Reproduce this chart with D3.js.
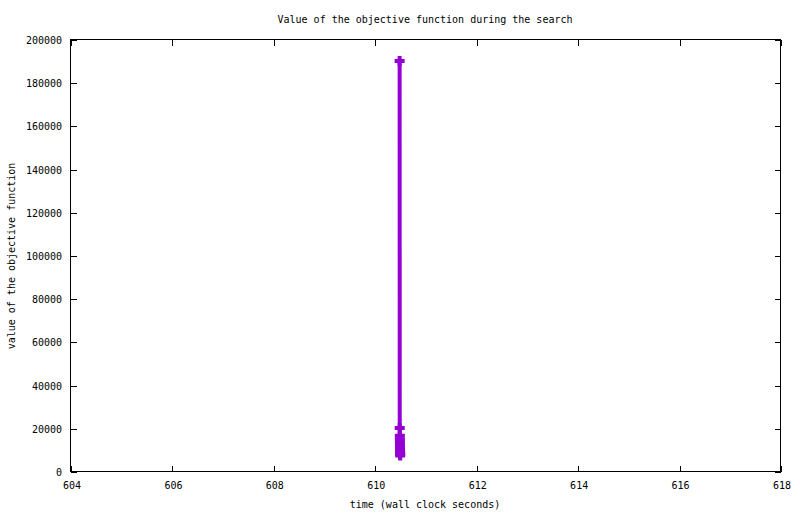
<!DOCTYPE html>
<html>
<head>
<meta charset="utf-8">
<script src="https://cdn.jsdelivr.net/npm/d3@7"></script>
<style>
html,body{margin:0;padding:0;background:#fff;}
svg text{font-family:"DejaVu Sans Mono","Liberation Mono",monospace;font-size:10px;fill:#000;}
</style>
</head>
<body>
<svg id="chart" width="800" height="514"></svg>
<script>
// Data
const times  = [610.480, 610.482, 610.484, 610.485, 610.486, 610.487, 610.488, 610.489, 610.490, 610.491];
const values = [190300, 20400, 16800, 15200, 13600, 12000, 10500, 9200, 8300, 7600];
const xTicks = [604, 606, 608, 610, 612, 614, 616, 618];
const yTicks = [0, 20000, 40000, 60000, 80000, 100000, 120000, 140000, 160000, 180000, 200000];
const title = "Value of the objective function during the search";
const xLabel = "time (wall clock seconds)";
const yLabel = "value of the objective function";

const svg = d3.select("#chart");
const L = 71, R = 781, T = 40, B = 472;
const x = d3.scaleLinear().domain([604, 618]).range([L, R]);
const y = d3.scaleLinear().domain([0, 200000]).range([B, T]);
const tickLen = 6;

// ticks (all four sides, inward)
const g = svg.append("g").attr("shape-rendering", "crispEdges");
xTicks.forEach(t => {
  const px = Math.round(x(t)) + 0.5;
  g.append("line").attr("x1", px).attr("x2", px).attr("y1", B).attr("y2", B - tickLen).attr("stroke", "#000");
  g.append("line").attr("x1", px).attr("x2", px).attr("y1", T).attr("y2", T + tickLen).attr("stroke", "#000");
  svg.append("text").attr("x", x(t) + 1).attr("y", B + 17).attr("text-anchor", "middle").text(t);
});
yTicks.forEach(t => {
  const py = Math.round(y(t)) + 0.5;
  g.append("line").attr("x1", L).attr("x2", L + tickLen).attr("y1", py).attr("y2", py).attr("stroke", "#000");
  g.append("line").attr("x1", R).attr("x2", R - tickLen).attr("y1", py).attr("y2", py).attr("stroke", "#000");
  svg.append("text").attr("x", L - 9).attr("y", y(t) + 4).attr("text-anchor", "end").text(t);
});
// border
g.append("rect").attr("x", L - 0.5).attr("y", T - 0.5).attr("width", R - L).attr("height", B - T)
  .attr("fill", "none").attr("stroke", "#000");

// titles
svg.append("text").attr("x", 425).attr("y", 23).attr("text-anchor", "middle").text(title);
svg.append("text").attr("x", 425).attr("y", 508).attr("text-anchor", "middle").text(xLabel);
svg.append("text").attr("transform", "translate(15,256) rotate(-90)").attr("text-anchor", "middle").text(yLabel);

// series
const data = times.map((t, i) => ({t, v: values[i]}));
const color = "#9400d3";
svg.append("path").datum(data)
  .attr("d", d3.line().x(d => x(d.t)).y(d => y(d.v)))
  .attr("fill", "none").attr("stroke", color).attr("stroke-width", 4);
const s = 5;
svg.append("g").selectAll("path.pt").data(data).join("path")
  .attr("class", "pt")
  .attr("d", d => {
    const cx = x(d.t), cy = y(d.v);
    return `M${cx - s},${cy}H${cx + s}M${cx},${cy - s}V${cy + s}`;
  })
  .attr("stroke", color).attr("stroke-width", 4).attr("fill", "none");
</script>
</body>
</html>
